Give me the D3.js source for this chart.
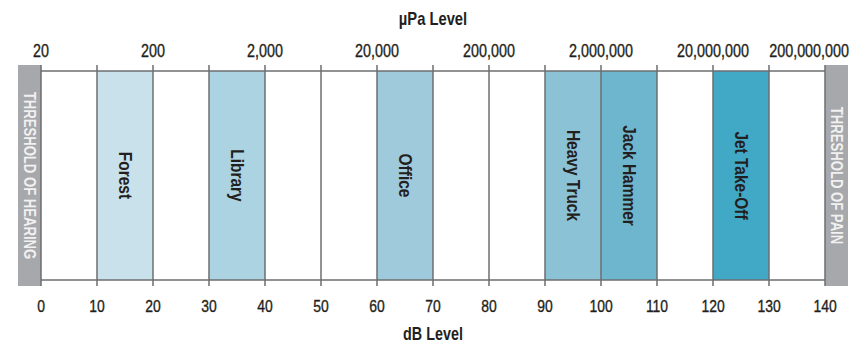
<!DOCTYPE html>
<html>
<head>
<meta charset="utf-8">
<script src="https://cdn.jsdelivr.net/npm/d3@7"></script>
<style>
    body { margin: 0; background: #ffffff; }
    text { font-family: "Liberation Sans", Arial, sans-serif; }
</style>
</head>
<body>
<div id="canvas"></div>
<script>
"use strict";

/* -------------------- Data -------------------- */

let dbTicks = [0, 10, 20, 30, 40, 50, 60, 70, 80, 90, 100, 110, 120, 130, 140];
let paTicks = [20, 200, 2000, 20000, 200000, 2000000, 20000000, 200000000];

let sources = ["Forest", "Library", "Office", "Heavy Truck", "Jack Hammer", "Jet Take-Off"];
let sourceStart = [10, 30, 60, 90, 100, 120];
let sourceEnd = [20, 40, 70, 100, 110, 130];
let sourceColors = ["#c9e1eb", "#acd3e2", "#9fcadc", "#8cc2d6", "#6eb6cd", "#41a8c6"];

let thresholds = ["THRESHOLD OF HEARING", "THRESHOLD OF PAIN"];

/* -------------------- Setup -------------------- */

let svgWidth = 857;
let svgHeight = 343;
let plotLeft = 41;
let plotRight = 825;
let plotTop = 71;
let plotBottom = 280;
let tickLen = 6;
let lineColor = "#6d6e71";
let textColor = "#231f20";

/* no narrow font installed, so squeeze Liberation Sans like Arial Narrow */
let narrow = 0.82;

let svg = d3.select("#canvas")
    .append("svg")
    .attr("width", svgWidth)
    .attr("height", svgHeight);

let xScale = d3.scaleLinear()
    .domain([0, 140])
    .range([plotLeft, plotRight]);

/* µPa = 20 * 10^(dB / 20) */
let paScale = d3.scaleLog()
    .domain([20, 20 * Math.pow(10, 7)])
    .range([plotLeft, plotRight]);

function flat(x, y) {
    return "translate(" + x + "," + y + ") scale(" + narrow + ",1)";
}

function upright(x, y, s) {
    return "translate(" + x + "," + y + ") rotate(90) scale(" + s + ",1)";
}

/* -------------------- Source bands -------------------- */

svg.selectAll("rect.band")
    .data(sources)
    .join("rect")
    .attr("class", "band")
    .attr("x", (d, i) => xScale(sourceStart[i]))
    .attr("y", plotTop)
    .attr("width", (d, i) => xScale(sourceEnd[i]) - xScale(sourceStart[i]))
    .attr("height", plotBottom - plotTop)
    .attr("fill", (d, i) => sourceColors[i]);

/* -------------------- Threshold bars -------------------- */

let thresholdX = [xScale(0) - 23, xScale(140)];

svg.selectAll("rect.threshold")
    .data(thresholds)
    .join("rect")
    .attr("class", "threshold")
    .attr("x", (d, i) => thresholdX[i])
    .attr("y", plotTop - tickLen)
    .attr("width", 23)
    .attr("height", plotBottom - plotTop + tickLen * 2)
    .attr("fill", "#a7a8ab");

svg.selectAll("text.threshold")
    .data(thresholds)
    .join("text")
    .attr("class", "threshold")
    .attr("transform", (d, i) => upright(thresholdX[i] + 11.5, (plotTop + plotBottom) / 2, narrow))
    .attr("text-anchor", "middle")
    .attr("dominant-baseline", "central")
    .attr("font-size", 16)
    .attr("font-weight", "bold")
    .attr("fill", "#f1f1f2")
    .text(d => d);

/* -------------------- Grid lines -------------------- */

svg.selectAll("line.grid")
    .data(dbTicks)
    .join("line")
    .attr("class", "grid")
    .attr("x1", d => xScale(d))
    .attr("x2", d => xScale(d))
    .attr("y1", plotTop - tickLen)
    .attr("y2", plotBottom + tickLen)
    .attr("stroke", lineColor)
    .attr("stroke-width", 1.5);

svg.selectAll("line.axis")
    .data([plotTop, plotBottom])
    .join("line")
    .attr("class", "axis")
    .attr("x1", plotLeft)
    .attr("x2", plotRight)
    .attr("y1", d => d)
    .attr("y2", d => d)
    .attr("stroke", lineColor)
    .attr("stroke-width", 1.5);

/* -------------------- Band labels -------------------- */

svg.selectAll("text.band")
    .data(sources)
    .join("text")
    .attr("class", "band")
    .attr("transform", (d, i) =>
        upright(xScale((sourceStart[i] + sourceEnd[i]) / 2), (plotTop + plotBottom) / 2, 0.86))
    .attr("text-anchor", "middle")
    .attr("dominant-baseline", "central")
    .attr("font-size", 18)
    .attr("font-weight", "bold")
    .attr("fill", textColor)
    .text(d => d);

/* -------------------- Tick labels -------------------- */

svg.selectAll("text.db")
    .data(dbTicks)
    .join("text")
    .attr("class", "db")
    .attr("transform", d => flat(xScale(d), 311.5))
    .attr("text-anchor", "middle")
    .attr("font-size", 17)
    .attr("fill", textColor)
    .attr("stroke", textColor)
    .attr("stroke-width", 0.35)
    .text(d => d);

/* last µPa label is pulled in so it stays on the page */
let paLast = paTicks[paTicks.length - 1];

svg.selectAll("text.pa")
    .data(paTicks)
    .join("text")
    .attr("class", "pa")
    .attr("transform", d => flat(d === paLast ? svgWidth - 8 : paScale(d), 57))
    .attr("text-anchor", d => d === paLast ? "end" : "middle")
    .attr("font-size", 17.5)
    .attr("fill", textColor)
    .attr("stroke", textColor)
    .attr("stroke-width", 0.35)
    .text(d => d3.format(",")(d));

/* -------------------- Axis titles -------------------- */

svg.append("text")
    .attr("transform", flat((plotLeft + plotRight) / 2, 25))
    .attr("text-anchor", "middle")
    .attr("font-size", 18)
    .attr("font-weight", "bold")
    .attr("fill", textColor)
    .text("µPa Level");

svg.append("text")
    .attr("transform", flat((plotLeft + plotRight) / 2, 340))
    .attr("text-anchor", "middle")
    .attr("font-size", 17.5)
    .attr("font-weight", "bold")
    .attr("fill", textColor)
    .text("dB Level");
</script>
</body>
</html>
